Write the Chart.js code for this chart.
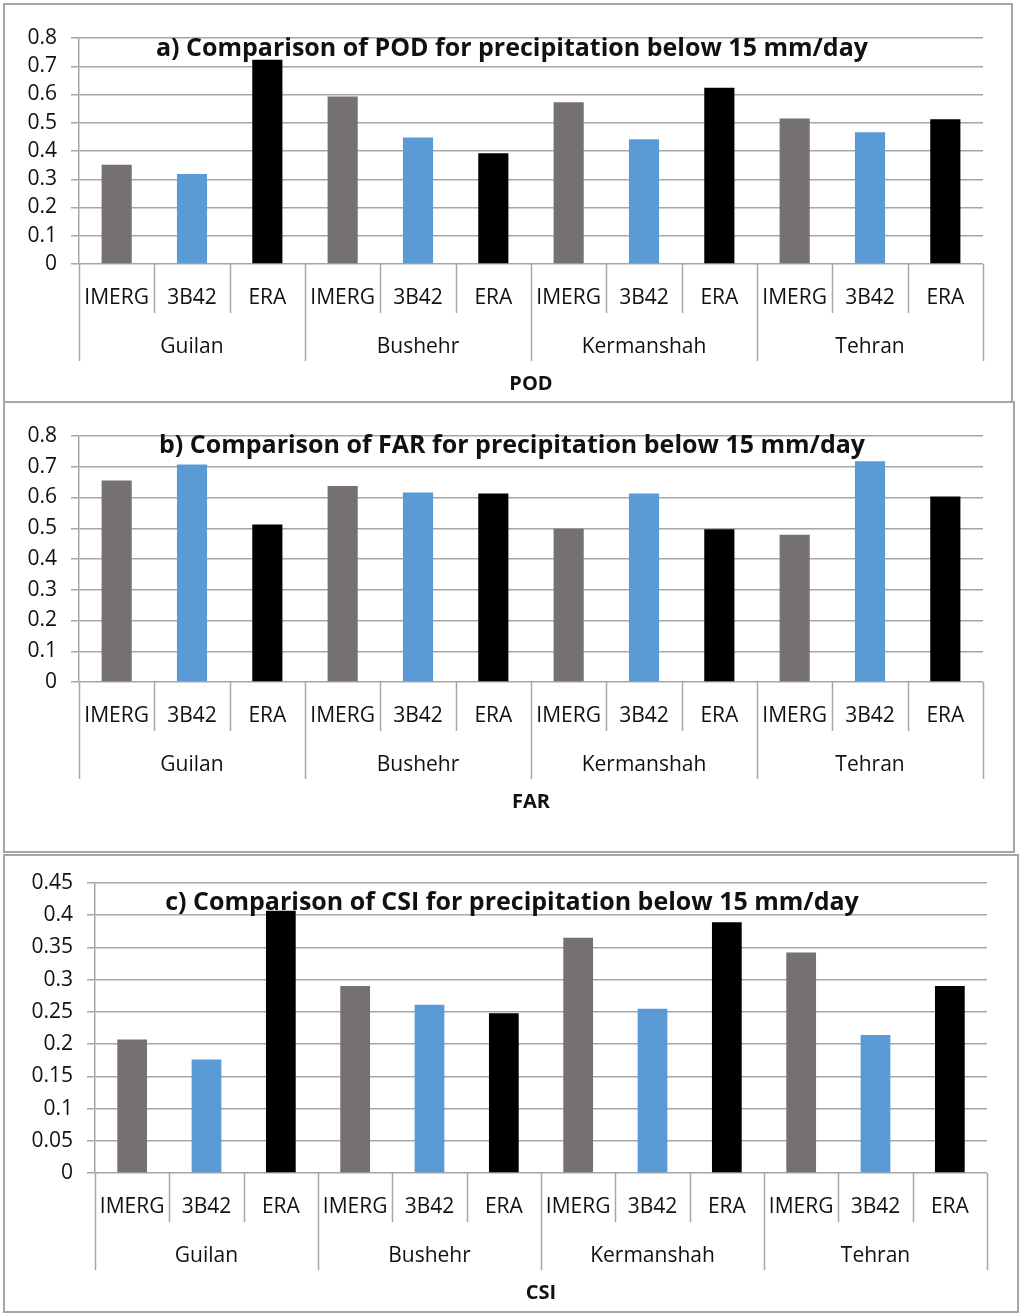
<!DOCTYPE html>
<html>
<head>
<meta charset="utf-8">
<script src="https://cdn.jsdelivr.net/npm/chart.js@4.4.1/dist/chart.umd.min.js"></script>
<style>
  body { margin: 0; background: #fff; width: 1024px; height: 1316px; position: relative; overflow: hidden; }
  .panel { position: absolute; border: 2px solid #a6a6a6; box-sizing: border-box; }
  .holder { position: absolute; left: 0; width: 1024px; }
</style>
</head>
<body>
<div class="panel" style="left:3px;top:3px;width:1010px;height:400px"></div>
<div class="panel" style="left:3px;top:401px;width:1012px;height:452px"></div>
<div class="panel" style="left:3px;top:854px;width:1016px;height:459px"></div>

<div class="holder" style="top:0;height:402px"><canvas id="podChart"></canvas></div>
<div class="holder" style="top:402px;height:450px"><canvas id="farChart"></canvas></div>
<div class="holder" style="top:852px;height:464px"><canvas id="csiChart"></canvas></div>

<script>
const stations = ['Guilan', 'Bushehr', 'Kermanshah', 'Tehran'];
const products = ['IMERG', '3B42', 'ERA'];

const podImerg = [0.351, 0.593, 0.573, 0.515];
const pod3b42 = [0.319, 0.448, 0.442, 0.466];
const podEra = [0.723, 0.392, 0.624, 0.512];

const farImerg = [0.655, 0.637, 0.498, 0.479];
const far3b42 = [0.707, 0.616, 0.613, 0.718];
const farEra = [0.512, 0.613, 0.497, 0.603];

const csiImerg = [0.207, 0.290, 0.365, 0.342];
const csi3b42 = [0.176, 0.261, 0.255, 0.214];
const csiEra = [0.407, 0.248, 0.389, 0.290];

const productColors = ['#767171', '#5B9BD5', '#000000'];
const gridColor = '#a6a6a6';
const fontFamily = '"Open Sans", "Noto Sans", sans-serif';

// draws the two-level category axis (product / station) plus title texts
const groupAxis = {
  id: 'groupAxis',
  afterDraw(chart, args, opts) {
    const { ctx, chartArea: a } = chart;
    const x = chart.scales.x;
    const n = chart.data.labels.length;
    const edge = i => i === 0 ? a.left : i === n ? a.right
      : (x.getPixelForValue(i - 1) + x.getPixelForValue(i)) / 2;

    ctx.save();
    ctx.strokeStyle = gridColor;
    ctx.lineWidth = 1.5;
    for (let i = 0; i <= n; i++) {
      const px = Math.round(edge(i)) + 0.5;
      const len = i % products.length === 0 ? 97 : 49;
      ctx.beginPath();
      ctx.moveTo(px, a.bottom);
      ctx.lineTo(px, a.bottom + len);
      ctx.stroke();
    }

    ctx.fillStyle = '#111';
    ctx.textAlign = 'center';
    ctx.textBaseline = 'middle';
    ctx.font = '21px ' + fontFamily;
    chart.data.labels.forEach((lab, i) => {
      ctx.fillText(lab, x.getPixelForValue(i), a.bottom + 34);
    });
    stations.forEach((st, g) => {
      const l = edge(g * products.length), r = edge((g + 1) * products.length);
      ctx.fillText(st, (l + r) / 2, a.bottom + 83);
    });

    ctx.font = 'bold 20px ' + fontFamily;
    ctx.fillText(opts.axisTitle, (a.left + a.right) / 2, a.bottom + 120);

    ctx.textBaseline = 'alphabetic';
    ctx.font = 'bold 25px ' + fontFamily;
    ctx.fillText(opts.title, 512, opts.titleY);
    ctx.restore();
  }
};

function interleave(a, b, c) {
  const out = [];
  for (let i = 0; i < stations.length; i++) out.push(a[i], b[i], c[i]);
  return out;
}

function makeChart(id, cfg) {
  const labels = [];
  const colors = [];
  stations.forEach(() => products.forEach((p, j) => { labels.push(p); colors.push(productColors[j]); }));

  return new Chart(document.getElementById(id), {
    type: 'bar',
    data: {
      labels,
      datasets: [{
        data: interleave(cfg.imerg, cfg.b42, cfg.era),
        backgroundColor: colors,
        borderWidth: 0,
        categoryPercentage: 1,
        barPercentage: 0.4
      }]
    },
    plugins: [groupAxis],
    options: {
      responsive: true,
      maintainAspectRatio: false,
      animation: false,
      layout: { padding: { top: cfg.top, bottom: cfg.bottom, left: 0, right: cfg.right } },
      plugins: {
        legend: { display: false },
        tooltip: { enabled: false },
        groupAxis: { title: cfg.title, titleY: cfg.titleY, axisTitle: cfg.axisTitle }
      },
      scales: {
        x: {
          ticks: { display: false },
          grid: { display: false, drawTicks: false },
          border: { display: false },
          afterFit: s => { s.height = 0; }
        },
        y: {
          min: 0,
          max: cfg.max,
          ticks: {
            stepSize: cfg.step,
            padding: 14,
            color: '#111',
            font: { family: fontFamily, size: 21 },
            callback: v => String(+v.toFixed(2))
          },
          grid: { color: gridColor, lineWidth: 1.5, tickLength: 8 },
          border: { color: gridColor, width: 1.5 },
          afterFit: s => { s.width = cfg.left; }
        }
      }
    }
  });
}

makeChart('podChart', {
  imerg: podImerg, b42: pod3b42, era: podEra,
  max: 0.8, step: 0.1,
  top: 38, bottom: 138, left: 79, right: 41,
  title: 'a) Comparison of POD for precipitation below 15 mm/day', titleY: 56,
  axisTitle: 'POD'
});

makeChart('farChart', {
  imerg: farImerg, b42: far3b42, era: farEra,
  max: 0.8, step: 0.1,
  top: 34, bottom: 170, left: 79, right: 41,
  title: 'b) Comparison of FAR for precipitation below 15 mm/day', titleY: 51,
  axisTitle: 'FAR'
});

makeChart('csiChart', {
  imerg: csiImerg, b42: csi3b42, era: csiEra,
  max: 0.45, step: 0.05,
  top: 31, bottom: 143, left: 95, right: 37,
  title: 'c) Comparison of CSI for precipitation below 15 mm/day', titleY: 58,
  axisTitle: 'CSI'
});
</script>
</body>
</html>
